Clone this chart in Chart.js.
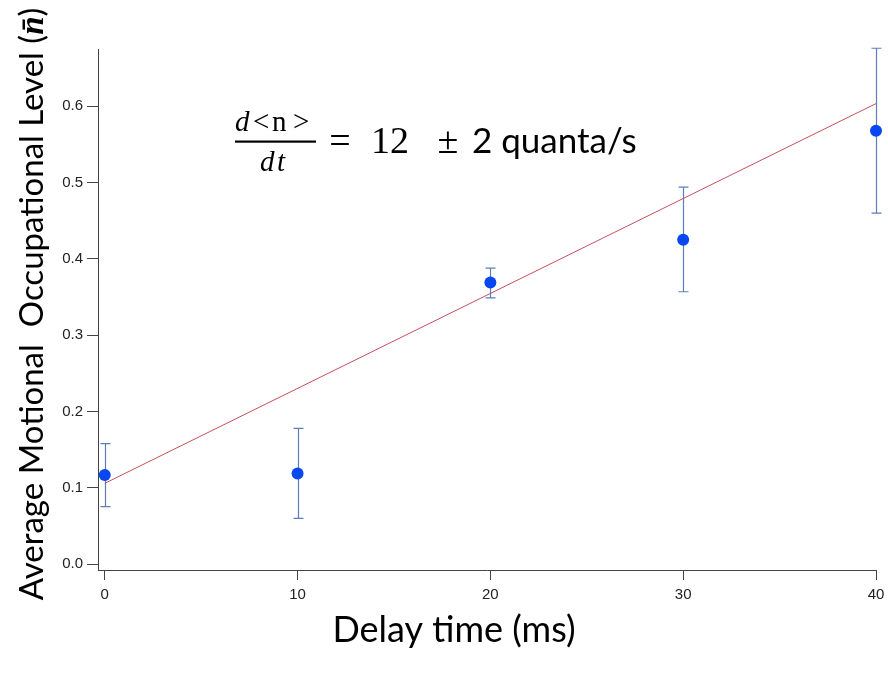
<!DOCTYPE html>
<html>
<head>
<meta charset="utf-8">
<script src="https://cdn.jsdelivr.net/npm/chart.js@4"></script>
<style>
html,body{margin:0;padding:0;background:#fff;}
#wrap{width:888px;height:673px;position:relative;}
canvas{display:block;}
</style>
</head>
<body>
<div id="wrap"><canvas id="c" width="888" height="673"></canvas></div>
<script>
// ---- data ----
const delayTimes = [0, 10, 20, 30, 40];
const meanN = [0.117, 0.119, 0.369, 0.425, 0.568];
const errUpper = [0.158, 0.178, 0.388, 0.494, 0.676];
const errLower = [0.0755, 0.060, 0.349, 0.357, 0.460];
const fitX = [0, 40];
const fitY = [0.106, 0.6035];
const xTickValues = [0, 10, 20, 30, 40];
const yTickValues = [0.0, 0.1, 0.2, 0.3, 0.4, 0.5, 0.6];
const xTitle = "Delay time (ms)";
const yTitleMain = "Average Motional  Occupational Level (";
const yTitleSym = "n\u0304";
const yTitleEnd = ")";

const errorBarPlugin = {
  id: 'errorBars',
  beforeDatasetsDraw(chart) {
    const ctx = chart.ctx, xs = chart.scales.x, ys = chart.scales.y;
    ctx.save();
    ctx.strokeStyle = '#5b7fb6';
    ctx.lineWidth = 1.2;
    delayTimes.forEach((t, i) => {
      const px = Math.round(xs.getPixelForValue(t)) + 0.5;
      const pt = ys.getPixelForValue(errUpper[i]);
      const pb = ys.getPixelForValue(errLower[i]);
      ctx.beginPath();
      ctx.moveTo(px, pt); ctx.lineTo(px, pb);
      ctx.moveTo(px - 5, pt); ctx.lineTo(px + 5, pt);
      ctx.moveTo(px - 5, pb); ctx.lineTo(px + 5, pb);
      ctx.stroke();
    });
    ctx.restore();
  }
};

const textPlugin = {
  id: 'texts',
  afterDraw(chart) {
    const ctx = chart.ctx;
    ctx.save();
    ctx.fillStyle = '#000';
    ctx.textBaseline = 'alphabetic';
    ctx.textAlign = 'left';
    // equation: numerator
    ctx.font = 'italic 29px "Liberation Serif"';
    ctx.fillText('d', 235, 131);
    ctx.font = '29px "Liberation Serif"';
    ctx.fillText('<', 253, 131);
    ctx.fillText('n', 272, 131);
    ctx.fillText('>', 293, 131);
    ctx.fillRect(235, 140.5, 81, 2.2);
    ctx.font = 'italic 29px "Liberation Serif"';
    ctx.fillText('d', 260, 171);
    ctx.fillText('t', 277, 171);
    ctx.font = '38px "Liberation Serif"';
    ctx.textAlign = 'center';
    ctx.fillText('=', 340, 153);
    ctx.fillText('\u00B1', 448, 153);
    ctx.fillText('12', 390, 153);
    ctx.textAlign = 'left';
    ctx.font = '35px Lato';
    ctx.fillText('2 quanta/s', 472, 153);
    // x title
    ctx.textAlign = 'center';
    ctx.font = '36px Lato';
    ctx.fillText(xTitle, 454, 642);
    // y title
    ctx.translate(43, 304);
    ctx.rotate(-Math.PI / 2);
    ctx.textAlign = 'left';
    ctx.font = '30px Lato';
    let w1 = ctx.measureText(yTitleMain).width;
    ctx.font = 'bold italic 30px "Liberation Serif"';
    let w2 = ctx.measureText(yTitleSym).width;
    ctx.font = '30px Lato';
    let w3 = ctx.measureText(yTitleEnd).width;
    const sz = 30 * 592 / (w1 + w2 + w3);
    const fMain = sz.toFixed(1) + 'px Lato';
    const fSym = 'bold italic ' + sz.toFixed(1) + 'px "Liberation Serif"';
    ctx.font = fMain; w1 = ctx.measureText(yTitleMain).width; w3 = ctx.measureText(yTitleEnd).width;
    ctx.font = fSym; w2 = ctx.measureText(yTitleSym).width;
    const x0 = -(w1 + w2 + w3) / 2;
    ctx.font = fMain;
    ctx.fillText(yTitleMain, x0, 0);
    ctx.font = fSym;
    ctx.fillText(yTitleSym, x0 + w1, 0);
    ctx.font = fMain;
    ctx.fillText(yTitleEnd, x0 + w1 + w2, 0);
    ctx.restore();
  }
};

new Chart(document.getElementById('c'), {
  type: 'scatter',
  data: {
    datasets: [
      {
        type: 'line',
        data: fitX.map((x, i) => ({x: x, y: fitY[i]})),
        borderColor: '#c5505c',
        borderWidth: 1,
        pointRadius: 0,
        fill: false,
        order: 2
      },
      {
        data: delayTimes.map((x, i) => ({x: x, y: meanN[i]})),
        backgroundColor: '#0748f2',
        borderWidth: 0,
        pointRadius: 6,
        clip: false,
        order: 1
      }
    ]
  },
  options: {
    responsive: false,
    animation: false,
    devicePixelRatio: 1,
    layout: {padding: {top: 49, right: 12, left: 0, bottom: 0}},
    plugins: {legend: {display: false}, tooltip: {enabled: false}},
    scales: {
      x: {
        type: 'linear',
        min: -0.35,
        max: 40,
        afterBuildTicks: s => { s.ticks = xTickValues.map(v => ({value: v})); },
        afterFit: s => { s.height = 103; s.paddingLeft = 0; s.paddingRight = 0; },
        grid: {display: true, drawOnChartArea: false, drawTicks: true, tickLength: 10, color: '#444', lineWidth: 1},
        border: {display: true, color: '#444', width: 1},
        ticks: {font: {family: 'Liberation Sans', size: 15}, color: '#222', padding: 6, maxRotation: 0, callback: v => String(v)}
      },
      y: {
        type: 'linear',
        min: -0.0075,
        max: 0.675,
        afterBuildTicks: s => { s.ticks = yTickValues.map(v => ({value: v})); },
        afterFit: s => { s.width = 98; s.paddingTop = 0; s.paddingBottom = 0; },
        grid: {display: true, drawOnChartArea: false, drawTicks: true, tickLength: 11, color: '#444', lineWidth: 1},
        border: {display: true, color: '#444', width: 1},
        ticks: {font: {family: 'Liberation Sans', size: 15}, color: '#222', padding: 4, callback: v => Number(v).toFixed(1)}
      }
    }
  },
  plugins: [errorBarPlugin, textPlugin]
});
</script>
</body>
</html>
